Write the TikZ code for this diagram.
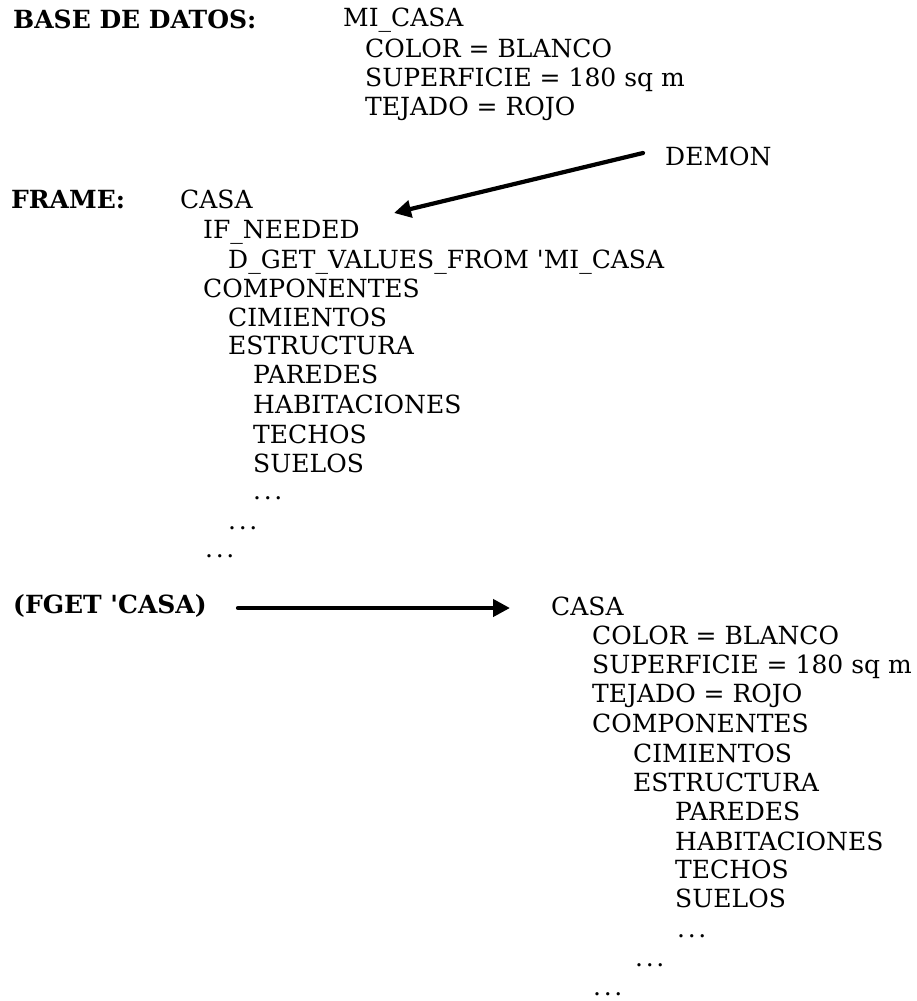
\documentclass[tikz,border=0pt]{standalone}
\usepackage{fontspec}
\setmainfont{DejaVu Serif}
\usetikzlibrary{arrows.meta}
\newcommand{\spdots}{.\hspace{2.6pt}.\hspace{2.6pt}.}
\begin{document}
\begin{tikzpicture}[x=1pt,y=-1pt,
  txt/.style={anchor=base west, inner sep=0pt, font=\fontsize{25}{29}\selectfont},
  hdr/.style={txt, font=\fontsize{25}{29}\selectfont\bfseries},
  link/.style={line width=4.2pt, line cap=round, -{Triangle[length=17pt,width=17pt]}}]
\useasboundingbox (0,0) rectangle (916,1001);

% database record
\node[hdr] (bd) at (13,28) {BASE DE DATOS:};
\node[txt] (mi)    at (343,27)  {MI\_CASA};
\node[txt] (mcol)  at (365,57)  {COLOR = BLANCO};
\node[txt] (msup)  at (365,86)  {SUPERFICIE = 180 sq m};
\node[txt] (mtej)  at (365,115) {TEJADO = ROJO};
\node[txt] (demon) at (665,165) {DEMON};

% frame definition
\node[hdr] (fr)    at (11,208)  {FRAME:};
\node[txt] (fcasa) at (180,208) {CASA};
\node[txt] (fif)   at (203,238) {IF\_NEEDED};
\node[txt] (fget)  at (228,268) {D\_GET\_VALUES\_FROM \textquotesingle MI\_CASA};
\node[txt] (fcomp) at (203,297) {COMPONENTES};
\node[txt] (fcim)  at (228,326) {CIMIENTOS};
\node[txt] (fest)  at (228,354) {ESTRUCTURA};
\node[txt] (fpar)  at (253,383) {PAREDES};
\node[txt] (fhab)  at (253,413) {HABITACIONES};
\node[txt] (ftec)  at (253,443) {TECHOS};
\node[txt] (fsue)  at (253,472) {SUELOS};
\node[txt] (fd1)   at (253,499) {\spdots};
\node[txt] (fd2)   at (228,529) {\spdots};
\node[txt] (fd3)   at (205,557) {\spdots};

% query and result
\node[hdr] (q)     at (13,613)  {(FGET \textquotesingle CASA)};
\node[txt] (rcasa) at (551,615) {CASA};
\node[txt] (rcol)  at (592,644) {COLOR = BLANCO};
\node[txt] (rsup)  at (592,673) {SUPERFICIE = 180 sq m};
\node[txt] (rtej)  at (592,702) {TEJADO = ROJO};
\node[txt] (rcomp) at (592,732) {COMPONENTES};
\node[txt] (rcim)  at (633,762) {CIMIENTOS};
\node[txt] (rest)  at (633,791) {ESTRUCTURA};
\node[txt] (rpar)  at (675,820) {PAREDES};
\node[txt] (rhab)  at (675,850) {HABITACIONES};
\node[txt] (rtec)  at (675,878) {TECHOS};
\node[txt] (rsue)  at (675,907) {SUELOS};
\node[txt] (rd1)   at (677,937) {\spdots};
\node[txt] (rd2)   at (635,966) {\spdots};
\node[txt] (rd3)   at (593,995) {\spdots};

% arrows
\coordinate (dtail) at (643,153);
\coordinate (dtip)  at (394,213);
\draw[link] (dtail) -- (dtip);
\coordinate (gtail) at (238,608);
\coordinate (gtip)  at (510,608);
\draw[link] (gtail) -- (gtip);
\end{tikzpicture}
\end{document}
